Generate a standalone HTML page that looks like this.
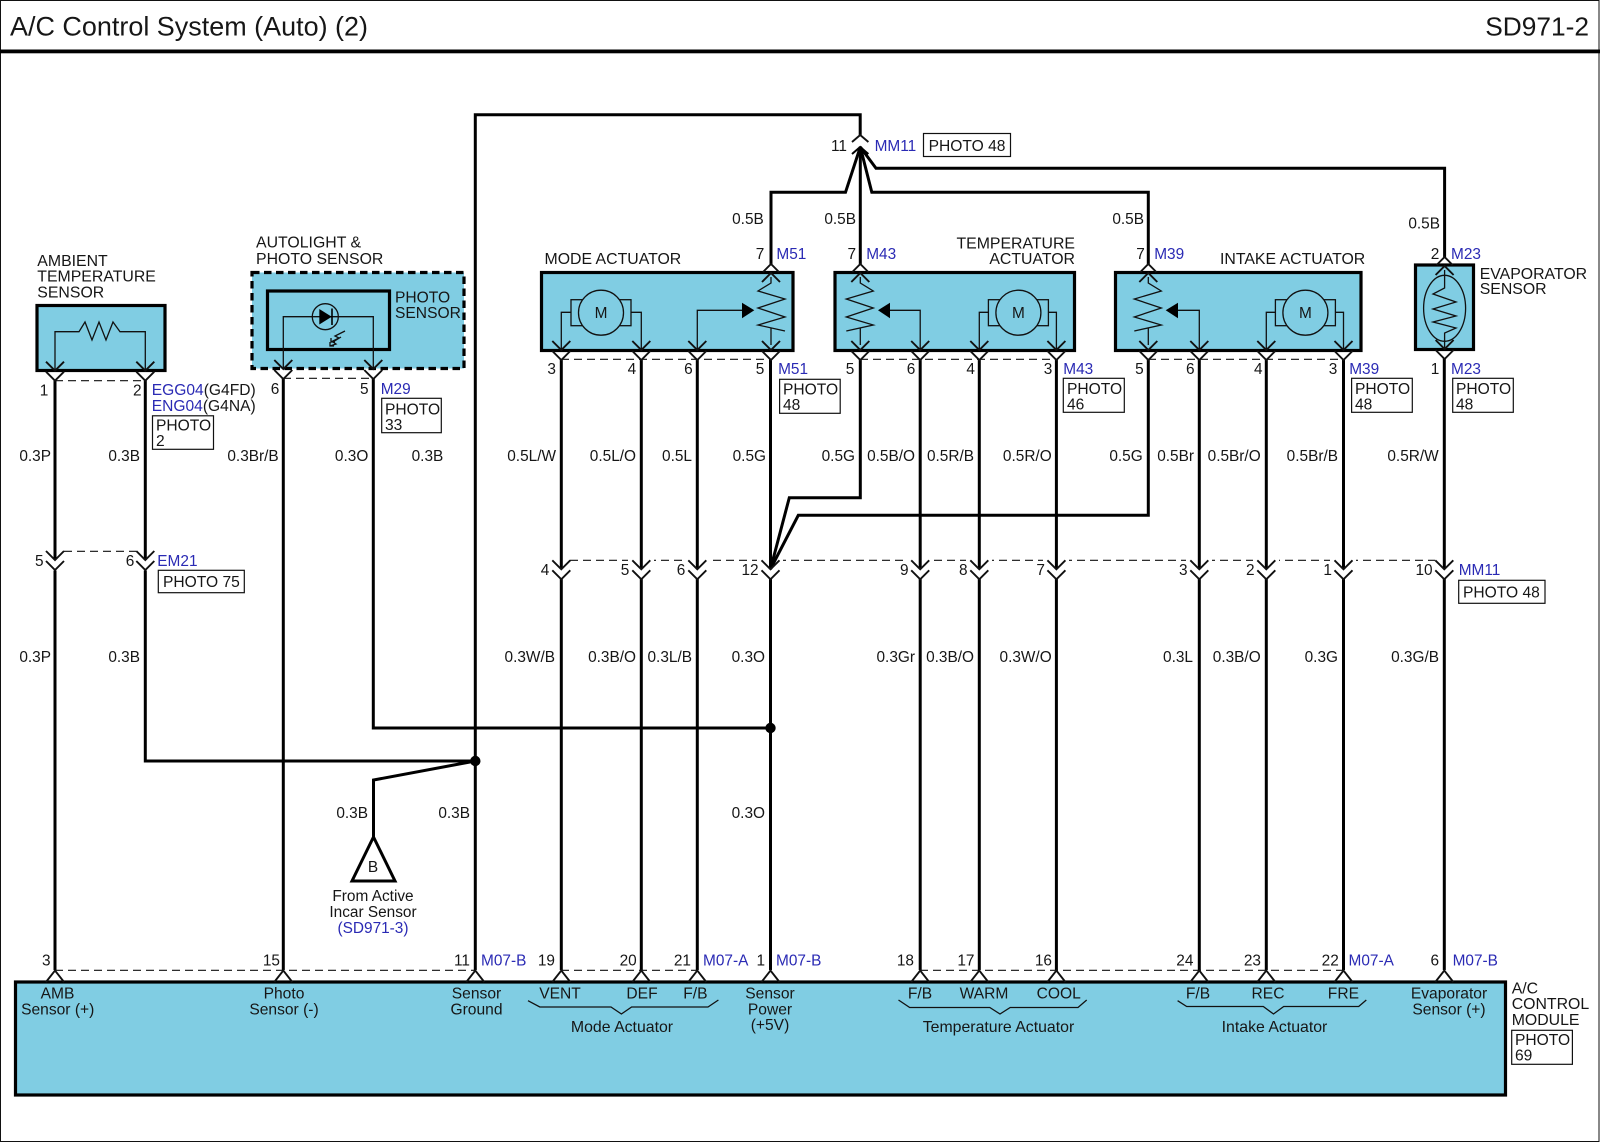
<!DOCTYPE html>
<html lang="en"><head><meta charset="utf-8"><title>A/C Control System (Auto) (2)</title>
<style>
html,body{margin:0;padding:0;background:#fff}
svg{display:block}
text{font-family:"Liberation Sans",sans-serif;font-size:15.4px;fill:#161616}
.k{font-size:15.85px}
.ph{font-size:15.6px}
.b{fill:#2a2ab4}
.e{text-anchor:end}
.m{text-anchor:middle}
.w{fill:none;stroke:#000;stroke-width:3;stroke-linejoin:miter}
.t{fill:none;stroke:#111;stroke-width:1.3}
.c{fill:none;stroke:#111;stroke-width:1.9}
.d{fill:none;stroke:#111;stroke-width:1.2;stroke-dasharray:8 5}
.bx{fill:#80cde3;stroke:#000;stroke-width:3.2}
.p{fill:#fff;stroke:#111;stroke-width:1.2}
</style></head><body>
<svg xmlns="http://www.w3.org/2000/svg" width="1600" height="1143" viewBox="0 0 1600 1143">
<defs>
<path id="dn" class="c" d="M-9,-9L0,0L9,-9M-9,1L0,10L9,1"/>
<path id="up" class="c" d="M-8,8L0,0L8,8M-9,18L0,9L9,18"/>
<path id="tr" class="c" d="M-9,11.5L0,0L9,11.5"/>
<path id="zig" class="t" d="M0,0V6L-13,14L14,22L-13,31L14,40L-13,48L14,54M0,51V68"/>
<g id="motor">
<rect x="-30" y="-13" width="60" height="26" class="t"/>
<circle r="22.5" fill="#80cde3" stroke="#111" stroke-width="1.3"/>
<text class="m" y="5.5" x="0">M</text>
</g>
</defs>
<rect width="1600" height="1143" fill="#fff"/>
<rect x="0.5" y="0.5" width="1598.5" height="1141" fill="none" stroke="#111" stroke-width="1"/>
<rect x="0" y="49.5" width="1600" height="3.8" fill="#000"/>
<text x="10" y="35.7" style="font-size:26.8px" textLength="358" lengthAdjust="spacingAndGlyphs">A/C Control System (Auto) (2)</text>
<text x="1589" y="35.7" class="e" style="font-size:26.3px">SD971-2</text>

<!-- boxes -->
<rect class="bx" x="37" y="305.5" width="128" height="65"/>
<rect x="252" y="272.5" width="212" height="96" fill="#80cde3" stroke="#000" stroke-width="3.2" stroke-dasharray="7.5 4.5"/>
<rect x="267.5" y="291" width="122" height="58.5" fill="none" stroke="#000" stroke-width="3.2"/>
<rect class="bx" x="541.5" y="272.5" width="251.5" height="78"/>
<rect class="bx" x="835" y="272.5" width="239.5" height="78"/>
<rect class="bx" x="1115.5" y="272.5" width="245.5" height="78"/>
<rect class="bx" x="1415.5" y="265" width="58" height="84.5"/>
<rect class="bx" x="15.5" y="982" width="1490" height="113"/>

<!-- dashes -->
<path class="d" d="M55,380.7H145M283,378.3H373M561,359.3H771M860,359.3H1056M1148,359.3H1343"/>
<path class="d" d="M64,551.3H136M570,560.3H1435"/>
<path class="d" d="M55,970.3H475M561,970.3H697M920,970.3H1343"/>
<g fill="#fff">
<rect x="628" y="558" width="26" height="5"/><rect x="684" y="558" width="26" height="5"/><rect x="757" y="558" width="26" height="5"/>
<rect x="907" y="558" width="26" height="5"/><rect x="966" y="558" width="26" height="5"/><rect x="1043" y="558" width="26" height="5"/>
<rect x="1186" y="558" width="26" height="5"/><rect x="1253" y="558" width="26" height="5"/><rect x="1330" y="558" width="26" height="5"/>
</g>

<!-- wires -->
<g class="w">
<path d="M55,380V560M55,570.5V970"/>
<path d="M145.3,380V560M145.3,570.5V761H475"/>
<path d="M283.3,378V970"/>
<path d="M373.3,378V728H770.5"/>
<path d="M475.3,970V114.7H860.2V135"/>
<path d="M475.3,761L373.5,780V837"/>
<path d="M561.3,359V569M561.3,579V970"/>
<path d="M641.3,359V569M641.3,579V970"/>
<path d="M697.3,359V569M697.3,579V970"/>
<path d="M770.5,359V569M770.5,579V970"/>
<path d="M860.3,359V497.7H789.3L770.5,569"/>
<path d="M1148.3,359V515.3H798.3L770.5,569"/>
<path d="M920.2,359V569M920.2,579V970"/>
<path d="M979.3,359V569M979.3,579V970"/>
<path d="M1056.4,359V569M1056.4,579V970"/>
<path d="M1199.3,359V569M1199.3,579V970"/>
<path d="M1266.3,359V569M1266.3,579V970"/>
<path d="M1343.5,359V569M1343.5,579V970"/>
<path d="M1444.3,358V569M1444.3,579V970"/>
<path d="M860.3,264V147"/>
<path d="M771,264V192.3H845.5L860.3,147"/>
<path d="M1148.3,264V192.3H871.8L860.3,147"/>
<path d="M1444.6,257V168.3H876L860.3,147"/>
</g>
<circle cx="475.3" cy="761" r="5.2" fill="#000"/>
<circle cx="770.5" cy="728" r="5.2" fill="#000"/>
<path d="M373.5,837L352,881H395Z" fill="#fff" stroke="#000" stroke-width="3"/>
<text class="m" x="373" y="872">B</text>

<!-- pin chevrons -->
<use href="#dn" x="55" y="370.7"/><use href="#dn" x="145.3" y="370.7"/>
<use href="#dn" x="283.3" y="369"/><use href="#dn" x="373.3" y="369"/>
<use href="#dn" x="561.3" y="350"/><use href="#dn" x="641.3" y="350"/><use href="#dn" x="697.3" y="350"/><use href="#dn" x="771" y="350"/>
<use href="#dn" x="860.3" y="350"/><use href="#dn" x="920.2" y="350"/><use href="#dn" x="979.3" y="350"/><use href="#dn" x="1056.4" y="350"/>
<use href="#dn" x="1148.3" y="350"/><use href="#dn" x="1199.3" y="350"/><use href="#dn" x="1266.3" y="350"/><use href="#dn" x="1343.5" y="350"/>
<use href="#dn" x="1444.6" y="349"/>
<use href="#dn" x="55" y="560"/><use href="#dn" x="145.3" y="560"/>
<use href="#dn" x="561.3" y="569.3"/><use href="#dn" x="641.3" y="569.3"/><use href="#dn" x="697.3" y="569.3"/><use href="#dn" x="770.5" y="569.3"/>
<use href="#dn" x="920.2" y="569.3"/><use href="#dn" x="979.3" y="569.3"/><use href="#dn" x="1056.4" y="569.3"/>
<use href="#dn" x="1199.3" y="569.3"/><use href="#dn" x="1266.3" y="569.3"/><use href="#dn" x="1343.5" y="569.3"/><use href="#dn" x="1444.3" y="569.3"/>
<use href="#up" x="771" y="264"/><use href="#up" x="860.3" y="264"/><use href="#up" x="1148.3" y="264"/><use href="#up" x="1444.6" y="257"/>
<path class="c" d="M852,142L860.2,135L868.4,142"/>
<path fill="none" stroke="#000" stroke-width="2" d="M852,154L860.2,147L868.4,154"/>
<use href="#tr" x="55" y="970.5"/><use href="#tr" x="283.3" y="970.5"/><use href="#tr" x="475.3" y="970.5"/>
<use href="#tr" x="561.3" y="970.5"/><use href="#tr" x="641.3" y="970.5"/><use href="#tr" x="697.3" y="970.5"/><use href="#tr" x="770.5" y="970.5"/>
<use href="#tr" x="920.2" y="970.5"/><use href="#tr" x="979.3" y="970.5"/><use href="#tr" x="1056.4" y="970.5"/>
<use href="#tr" x="1199.3" y="970.5"/><use href="#tr" x="1266.3" y="970.5"/><use href="#tr" x="1343.5" y="970.5"/><use href="#tr" x="1444.3" y="970.5"/>

<!-- ambient internals -->
<path class="t" d="M55,370V331.7H79L85,322L92,340L99,322L106,340L113,322L120,331.7H145.3V370"/>
<!-- photo sensor internals -->
<path class="t" d="M283.3,369V316.7H373.3V369"/>
<circle cx="325.3" cy="316.7" r="13" fill="none" stroke="#111" stroke-width="1.3"/>
<path d="M319.3,309L331.7,316.7L319.3,324.5Z" fill="#000"/>
<path d="M332,308.5V325" stroke="#000" stroke-width="1.6"/>
<path class="t" stroke-width="1" d="M345,331L335,336L339,338L331,342M341,337L333,342L336,344L330,346M331,338V342H335M330,342V346H334"/>

<!-- actuators -->
<use href="#motor" x="601" y="312.7"/>
<path class="t" d="M571,312.3H561.3V350M631,312.3H641.3V350"/>
<path class="t" d="M697.3,350V310.3H743"/>
<path d="M742,302.7L754.3,310.3L742,318.3Z" fill="#000"/>
<use href="#zig" x="771" y="277"/>
<use href="#zig" transform="translate(860.3,277) scale(-1,1)"/>
<path class="t" d="M920.2,350V310.3H888"/>
<path d="M890,302.7L878,310.3L890,318.3Z" fill="#000"/>
<use href="#motor" x="1018.4" y="312.7"/>
<path class="t" d="M988.4,312.3H979.3V350M1048.4,312.3H1056.4V350"/>
<use href="#zig" transform="translate(1148.3,277) scale(-1,1)"/>
<path class="t" d="M1199.3,350V310.3H1176"/>
<path d="M1178,302.7L1165.7,310.3L1178,318.3Z" fill="#000"/>
<use href="#motor" x="1305.4" y="312.7"/>
<path class="t" d="M1275.4,312.3H1266.3V350M1335.4,312.3H1343.5V350"/>
<!-- evaporator -->
<ellipse cx="1444.6" cy="308.3" rx="21" ry="33" fill="none" stroke="#111" stroke-width="1.3"/>
<path class="t" d="M1444.6,270V288L1433,294L1456,302L1433,309L1456,316L1433,322L1456,328L1444.6,333V349"/>
<!-- braces -->
<path class="t" d="M528,1000.7L539.8,1007H611L621.4,1014L631.6,1007H708L718.4,1000"/>
<path class="t" d="M898.5,1000L909.7,1007.5H989.8L1000,1014L1010.2,1007.5H1078L1086.7,1000"/>
<path class="t" d="M1177.6,1000.7L1186.7,1006.5H1263.3L1273.5,1014L1283.7,1006.5H1358.7L1366.3,1000"/>

<!-- photo boxes -->
<rect class="p" x="923.5" y="133.5" width="87" height="23"/>
<rect class="p" x="152.5" y="415.8" width="61" height="33.5"/>
<rect class="p" x="381.7" y="398.3" width="59.6" height="34.4"/>
<rect class="p" x="779.6" y="379.3" width="60.6" height="34"/>
<rect class="p" x="1063.3" y="378.3" width="61" height="34"/>
<rect class="p" x="1351.6" y="378.3" width="60.7" height="34"/>
<rect class="p" x="1452.7" y="378.3" width="60.6" height="34"/>
<rect class="p" x="158.3" y="570.3" width="86" height="22.4"/>
<rect class="p" x="1458.7" y="580.3" width="86.3" height="23"/>
<rect class="p" x="1511.7" y="1030.3" width="60.7" height="34"/>

<g class="ph">
<text class="ph" x="928.6" y="151">PHOTO 48</text>
<text class="ph" x="156" y="430.7">PHOTO</text><text class="ph" x="156" y="446">2</text>
<text class="ph" x="385" y="414.3">PHOTO</text><text class="ph" x="385" y="430">33</text>
<text class="ph" x="783" y="394.7">PHOTO</text><text class="ph" x="783" y="410">48</text>
<text class="ph" x="1067" y="394">PHOTO</text><text class="ph" x="1067" y="409.5">46</text>
<text class="ph" x="1355" y="394">PHOTO</text><text class="ph" x="1355" y="409.5">48</text>
<text class="ph" x="1456" y="394">PHOTO</text><text class="ph" x="1456" y="409.5">48</text>
<text class="ph" x="163" y="587">PHOTO 75</text>
<text class="ph" x="1463" y="597.7">PHOTO 48</text>
<text class="ph" x="1515" y="1045">PHOTO</text><text class="ph" x="1515" y="1060.7">69</text>
</g>

<!-- component labels -->
<text class="k" x="37.3" y="266">AMBIENT</text><text class="k" x="37.3" y="281.7">TEMPERATURE</text><text class="k" x="37.3" y="297.7">SENSOR</text>
<text class="k" x="256" y="247.7">AUTOLIGHT &amp;</text><text class="k" x="256" y="264">PHOTO SENSOR</text>
<text class="ph" x="395" y="302.3">PHOTO</text><text class="ph" x="395" y="318">SENSOR</text>
<text class="k" x="544.5" y="264">MODE ACTUATOR</text>
<text class="e k" x="1075" y="248.3">TEMPERATURE</text><text class="e k" x="1075" y="264">ACTUATOR</text>
<text class="k" x="1220" y="264">INTAKE ACTUATOR</text>
<text class="k" x="1479.7" y="279">EVAPORATOR</text><text class="k" x="1479.7" y="294">SENSOR</text>
<text class="k" x="1511.7" y="993.3">A/C</text><text class="k" x="1511.7" y="1009">CONTROL</text><text class="k" x="1511.7" y="1025">MODULE</text>
<text class="m" x="373" y="901">From Active</text><text class="m" x="373" y="917">Incar Sensor</text><text class="m b" x="373" y="933">(SD971-3)</text>

<!-- connector labels -->
<text class="b" x="874.6" y="151">MM11</text><text class="e" x="847" y="151">11</text>
<text class="m" x="44" y="395.7">1</text><text class="m" x="137.3" y="395.7">2</text>
<text class="ph" x="151.7" y="395"><tspan class="b">EGG04</tspan>(G4FD)</text>
<text class="ph" x="151.7" y="411"><tspan class="b">ENG04</tspan>(G4NA)</text>
<text class="m" x="275" y="394">6</text><text class="m" x="364.3" y="394">5</text><text class="b" x="380.7" y="394">M29</text>
<text class="m" x="760" y="259">7</text><text class="b" x="776.4" y="259">M51</text>
<text class="m" x="851.8" y="259">7</text><text class="b" x="866.2" y="259">M43</text>
<text class="m" x="1140.5" y="259">7</text><text class="b" x="1154.2" y="259">M39</text>
<text class="m" x="1435" y="259">2</text><text class="b" x="1451" y="259">M23</text>
<text class="m" x="551.6" y="374">3</text><text class="m" x="631.9" y="374">4</text><text class="m" x="688.4" y="374">6</text><text class="m" x="760" y="374">5</text>
<text class="m" x="850" y="374">5</text><text class="m" x="911" y="374">6</text><text class="m" x="970.7" y="374">4</text><text class="m" x="1048" y="374">3</text>
<text class="m" x="1139.4" y="374">5</text><text class="m" x="1190.3" y="374">6</text><text class="m" x="1258.3" y="374">4</text><text class="m" x="1333" y="374">3</text>
<text class="m" x="1435" y="374">1</text>
<text class="b" x="778.1" y="374">M51</text><text class="b" x="1063.3" y="374">M43</text><text class="b" x="1349.2" y="374">M39</text><text class="b" x="1451" y="374">M23</text>

<text class="m" x="39.3" y="566">5</text><text class="m" x="130" y="566">6</text><text class="b" x="157.3" y="566">EM21</text>
<text class="m" x="545" y="575">4</text><text class="m" x="625" y="575">5</text><text class="m" x="681" y="575">6</text><text class="m" x="750" y="575">12</text>
<text class="m" x="904.3" y="575">9</text><text class="m" x="963.3" y="575">8</text><text class="m" x="1040.7" y="575">7</text>
<text class="m" x="1183.3" y="575">3</text><text class="m" x="1250.3" y="575">2</text><text class="m" x="1327.7" y="575">1</text><text class="m" x="1424" y="575">10</text>
<text class="b" x="1458.7" y="575">MM11</text>

<!-- bottom pin labels -->
<text class="e" x="50.5" y="965.7">3</text><text class="e" x="280" y="965.7">15</text><text class="e" x="470" y="965.7">11</text>
<text class="b" x="481" y="965.7">M07-B</text>
<text class="e" x="555" y="965.7">19</text><text class="e" x="636.7" y="965.7">20</text><text class="e" x="691" y="965.7">21</text>
<text class="b" x="703" y="965.7">M07-A</text>
<text class="e" x="765" y="965.7">1</text><text class="b" x="776" y="965.7">M07-B</text>
<text class="e" x="914" y="965.7">18</text><text class="e" x="974.5" y="965.7">17</text><text class="e" x="1052" y="965.7">16</text>
<text class="e" x="1193.4" y="965.7">24</text><text class="e" x="1261" y="965.7">23</text><text class="e" x="1338.8" y="965.7">22</text>
<text class="b" x="1348.5" y="965.7">M07-A</text>
<text class="e" x="1439" y="965.7">6</text><text class="b" x="1452.6" y="965.7">M07-B</text>

<!-- module labels -->
<text class="m ph" x="57.5" y="998.3">AMB</text><text class="m ph" x="57.7" y="1014.3">Sensor (+)</text>
<text class="m ph" x="284" y="998.3">Photo</text><text class="m ph" x="284" y="1014.3">Sensor (-)</text>
<text class="m ph" x="476.5" y="998.3">Sensor</text><text class="m ph" x="476.5" y="1014.3">Ground</text>
<text class="m ph" x="560" y="998.3">VENT</text><text class="m ph" x="642" y="998.3">DEF</text><text class="m ph" x="695.4" y="998.3">F/B</text>
<text class="m k" x="622" y="1032">Mode Actuator</text>
<text class="m ph" x="770" y="998.3">Sensor</text><text class="m ph" x="770" y="1014.3">Power</text><text class="m ph" x="770" y="1030">(+5V)</text>
<text class="m ph" x="920" y="998.3">F/B</text><text class="m ph" x="984" y="998.3">WARM</text><text class="m ph" x="1058.7" y="998.3">COOL</text>
<text class="m k" x="998.5" y="1032">Temperature Actuator</text>
<text class="m ph" x="1198" y="998.3">F/B</text><text class="m ph" x="1268" y="998.3">REC</text><text class="m ph" x="1343.4" y="998.3">FRE</text>
<text class="m k" x="1274.5" y="1032">Intake Actuator</text>
<text class="m ph" x="1449" y="998.3">Evaporator</text><text class="m ph" x="1449" y="1014.3">Sensor (+)</text>

<!-- wire labels -->
<text class="e" x="763.8" y="224">0.5B</text><text class="e" x="856" y="224">0.5B</text><text class="e" x="1144" y="224">0.5B</text><text class="e" x="1440" y="228.3">0.5B</text>
<text class="e" x="51" y="461">0.3P</text><text class="e" x="140" y="461">0.3B</text><text class="e" x="278.7" y="461">0.3Br/B</text><text class="e" x="368.3" y="461">0.3O</text><text class="e" x="443.3" y="461">0.3B</text>
<text class="e" x="556" y="461">0.5L/W</text><text class="e" x="636" y="461">0.5L/O</text><text class="e" x="692" y="461">0.5L</text><text class="e" x="766" y="461">0.5G</text><text class="e" x="855" y="461">0.5G</text><text class="e" x="915" y="461">0.5B/O</text><text class="e" x="974" y="461">0.5R/B</text><text class="e" x="1051.7" y="461">0.5R/O</text><text class="e" x="1142.7" y="461">0.5G</text><text class="e" x="1194" y="461">0.5Br</text><text class="e" x="1260.7" y="461">0.5Br/O</text><text class="e" x="1338" y="461">0.5Br/B</text><text class="e" x="1438.7" y="461">0.5R/W</text>
<text class="e" x="51" y="662">0.3P</text><text class="e" x="140" y="662">0.3B</text><text class="e" x="555" y="662">0.3W/B</text><text class="e" x="636" y="662">0.3B/O</text><text class="e" x="692" y="662">0.3L/B</text><text class="e" x="765" y="662">0.3O</text><text class="e" x="915" y="662">0.3Gr</text><text class="e" x="974" y="662">0.3B/O</text><text class="e" x="1051.7" y="662">0.3W/O</text><text class="e" x="1193" y="662">0.3L</text><text class="e" x="1260.7" y="662">0.3B/O</text><text class="e" x="1338" y="662">0.3G</text><text class="e" x="1439" y="662">0.3G/B</text>
<text class="e" x="368" y="818">0.3B</text><text class="e" x="470" y="818">0.3B</text><text class="e" x="765" y="818">0.3O</text>
</svg>
</body></html>
